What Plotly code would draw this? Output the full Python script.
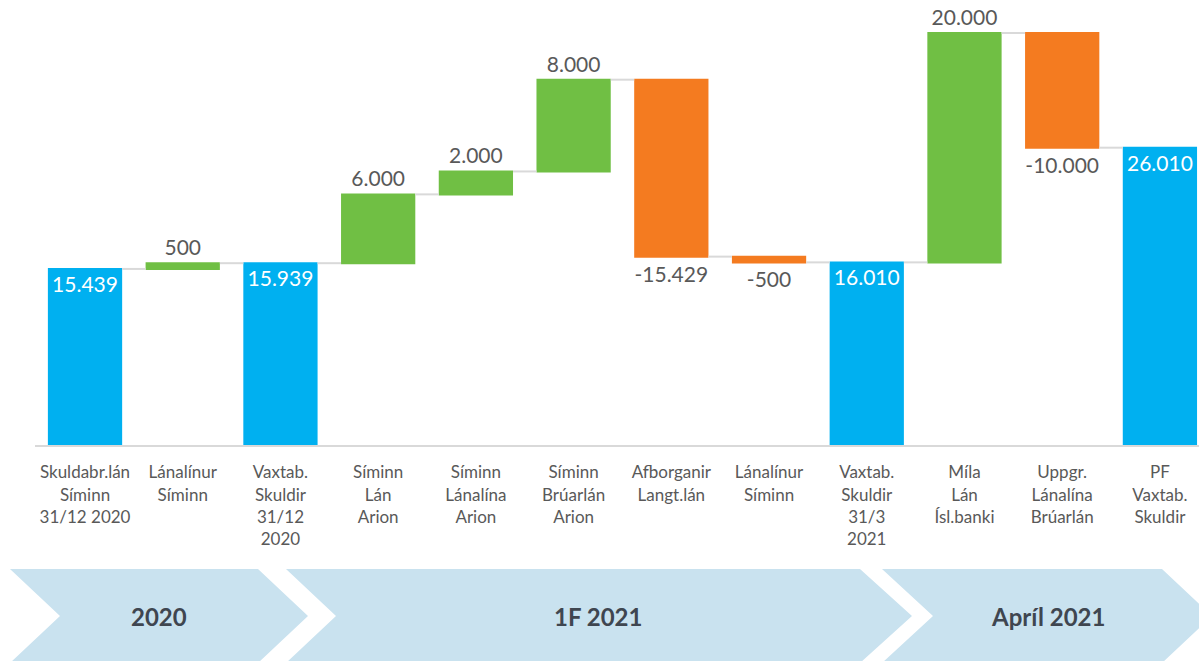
import plotly.graph_objects as go

categories = [
    "Skuldabr.lán<br>Síminn<br>31/12 2020",
    "Lánalínur<br>Síminn",
    "Vaxtab.<br>Skuldir<br>31/12<br>2020",
    "Síminn<br>Lán<br>Arion",
    "Síminn<br>Lánalína<br>Arion",
    "Síminn<br>Brúarlán<br>Arion",
    "Afborganir<br>Langt.lán",
    "Lánalínur<br>Síminn",
    "Vaxtab.<br>Skuldir<br>31/3<br>2021",
    "Míla<br>Lán<br>Ísl.banki",
    "Uppgr.<br>Lánalína<br>Brúarlán",
    "PF<br>Vaxtab.<br>Skuldir",
]
measures = ["absolute", "relative", "total", "relative", "relative", "relative",
            "relative", "relative", "total", "relative", "relative", "total"]
values = [15439, 500, 0, 6000, 2000, 8000, -15429, -500, 0, 20000, -10000, 0]
display_values = [15439, 500, 15939, 6000, 2000, 8000, -15429, -500, 16010, 20000, -10000, 26010]
periods = ["2020", "1F 2021", "Apríl 2021"]

W, H = 1199, 661
PLOT_BOTTOM = 446  # px


def fmt(v):
    s = f"{abs(v):,}".replace(",", ".")
    return ("-" if v < 0 else "") + s


texts = [fmt(v) for v in display_values]
textpos = ["inside" if m != "relative" else "outside" for m in measures]

FONT = "Lato, Calibri, 'Open Sans', sans-serif"

fig = go.Figure(go.Waterfall(
    x=list(range(len(categories))),
    measure=measures,
    y=values,
    text=texts,
    textposition=textpos,
    insidetextanchor="end",
    constraintext="none",
    insidetextfont=dict(color="white", size=21, family=FONT),
    outsidetextfont=dict(color="#595959", size=21, family=FONT),
    increasing=dict(marker=dict(color="#70BF44")),
    decreasing=dict(marker=dict(color="#F47B20")),
    totals=dict(marker=dict(color="#00B0F0")),
    connector=dict(line=dict(color="#D9D9D9", width=2)),
    width=0.76,
    cliponaxis=False,
    hoverinfo="skip",
))


def px(x):
    return x / W


def py(y):
    return (PLOT_BOTTOM - y) / PLOT_BOTTOM


shapes = []
# baseline
shapes.append(dict(type="line", xref="paper", yref="paper",
                   x0=px(35), x1=1, y0=0, y1=0,
                   line=dict(color="#D9D9D9", width=2), layer="above"))

chevrons = [
    [(10, 569), (258, 569), (308, 616), (258, 663), (10, 663), (60, 616)],
    [(286, 569), (860, 569), (912, 616), (860, 663), (286, 663), (336, 616)],
    [(882, 569), (1162, 569), (1212, 616), (1162, 663), (882, 663), (933, 616)],
]
for pts in chevrons:
    path = "M " + " L ".join(f"{px(x):.5f},{py(y):.5f}" for x, y in pts) + " Z"
    shapes.append(dict(type="path", xref="paper", yref="paper", path=path,
                       fillcolor="#C9E2EF", line=dict(width=0), layer="below"))

label_x = [159, 598, 1048]
annotations = []
for t, x in zip(periods, label_x):
    annotations.append(dict(text=f"<b>{t}</b>", xref="paper", yref="paper",
                            x=px(x), y=py(616), showarrow=False,
                            xanchor="center", yanchor="middle",
                            font=dict(size=24, color="#3F4650", family=FONT)))

fig.update_layout(
    width=W, height=H,
    margin=dict(l=0, r=0, t=0, b=H - PLOT_BOTTOM),
    plot_bgcolor="white", paper_bgcolor="white",
    showlegend=False,
    shapes=shapes,
    annotations=annotations,
    xaxis=dict(
        tickmode="array",
        tickvals=list(range(len(categories))),
        ticktext=categories,
        range=[-0.87, 11.40],
        showgrid=False, zeroline=False, showline=False,
        ticks="outside", ticklen=11, tickcolor="rgba(0,0,0,0)",
        tickfont=dict(size=17, color="#595959", family=FONT),
    ),
    yaxis=dict(range=[0, 38887], visible=False, showgrid=False, zeroline=False),
)

fig.write_html("out.html", config={"displayModeBar": False},
               post_script="document.body.style.margin='0';document.body.style.overflow='hidden';")
